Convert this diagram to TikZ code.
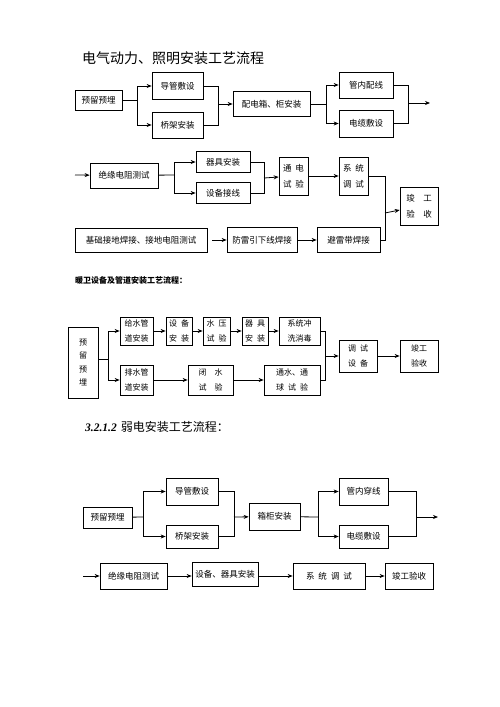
\documentclass[tikz,border=0pt]{standalone}
\usepackage{fontspec}
\setmainfont{Noto Sans CJK SC}
\newfontfamily\numfont{Liberation Serif}
\usetikzlibrary{arrows.meta,positioning}
\newcommand{\cgap}{\hspace{4pt}}

\begin{document}
\begin{tikzpicture}[
    x=1pt, y=-1pt,
    box/.style={draw, line width=0.7pt, inner sep=0pt, align=center, font=\fontsize{8.5}{16}\selectfont},
    tallbox/.style={box, font=\fontsize{8}{15}\selectfont},
    title/.style={anchor=west, inner sep=0pt},
    arrow/.style={-{Stealth[length=5pt,width=4pt]}, line width=0.8pt},
    line/.style={line width=0.8pt},
]
\useasboundingbox (0,0) rectangle (500,707);

% Electrical flow
\node[title, font=\fontsize{14}{16}\selectfont] (title1) at (82,58) {电气动力、照明安装工艺流程};

\node[box, minimum width=47, minimum height=20] (yl1) at (98.5,100) {预留预埋};
\node[box, minimum width=51, minimum height=27] (dg1) at (177.5,86) {导管敷设};
\node[box, minimum width=51, minimum height=26] (qj1) at (177.5,125) {桥架安装};
\node[box, minimum width=77, minimum height=25] (pd1) at (271.5,104) {配电箱、柜安装};
\node[box, minimum width=54, minimum height=26] (gn1) at (366,85) {管内配线};
\node[box, minimum width=54, minimum height=27] (dl1) at (366,123.5) {电缆敷设};

\coordinate (b1) at (137,100);
\coordinate (m1) at (218,104);
\coordinate (b2) at (326,104);
\coordinate (m2) at (408,103);
\coordinate (out1) at (430,103);

\draw[line] (yl1) -- (b1);
\draw[arrow] (b1) |- (dg1);
\draw[arrow] (b1) |- (qj1);
\draw[line] (dg1) -| (m1);
\draw[line] (qj1) -| (m1);
\draw[arrow] (m1) -- (pd1);
\draw[line] (pd1) -- (b2);
\draw[arrow] (b2) |- (gn1);
\draw[arrow] (b2) |- (dl1);
\draw[line] (gn1) -| (m2);
\draw[line] (dl1) -| (m2);
\draw[arrow] (m2) -- (out1);

% Testing row
\coordinate (in2) at (75,175);
\node[box, minimum width=68, minimum height=25] (jy1) at (124,175.5) {绝缘电阻测试};
\node[box, minimum width=54, minimum height=21] (qa1) at (223,162) {器具安装};
\node[box, minimum width=54, minimum height=21] (sb1) at (223,193) {设备接线};
\node[box, minimum width=29, minimum height=38] (td1) at (293.5,176) {通\cgap 电\\试\cgap 验};
\node[box, minimum width=29, minimum height=38] (xt1) at (353.5,176) {系\cgap 统\\调\cgap 试};
\node[box, minimum width=38, minimum height=38] (jg1) at (419,206) {竣　工\\验　收};

\coordinate (b3) at (174,175);
\coordinate (m3) at (264,178);
\coordinate (m4) at (385,213);

\draw[arrow] (in2) -- (jy1);
\draw[line] (jy1) -- (b3);
\draw[arrow] (b3) |- (qa1);
\draw[arrow] (b3) |- (sb1);
\draw[line] (qa1) -| (m3);
\draw[line] (sb1) -| (m3);
\draw[arrow] (m3) -- (td1);
\draw[arrow] (td1) -- (xt1);

% Grounding row
\node[box, minimum width=132, minimum height=24] (jd1) at (141,240) {基础接地焊接、接地电阻测试};
\node[box, minimum width=70, minimum height=25] (fl1) at (262,240) {防雷引下线焊接};
\node[box, minimum width=63, minimum height=25] (bl1) at (348.5,240) {避雷带焊接};
\coordinate (in3) at (212,240);

\draw[arrow] (in3) -- (fl1);
\draw[arrow] (fl1) -- (bl1);
\draw[line] (xt1) -| (m4);
\draw[line] (bl1) -| (m4);
\draw[arrow] (m4) -- (jg1);

% Plumbing flow
\node[title, font=\bfseries\fontsize{8}{10}\selectfont] (title2) at (75,280) {暖卫设备及管道安装工艺流程：};

\node[tallbox, minimum width=30, minimum height=71, font=\fontsize{8}{13.5}\selectfont] (yl2) at (83,362.5) {预\\留\\预\\埋};
\node[tallbox, minimum width=33, minimum height=28] (gs2) at (136.5,331) {给水管\\道安装};
\node[tallbox, minimum width=26, minimum height=28] (sb2) at (179,331) {设\cgap 备\\安\cgap 装};
\node[tallbox, minimum width=27, minimum height=28] (sy2) at (216.5,331) {水\cgap 压\\试\cgap 验};
\node[tallbox, minimum width=26, minimum height=28] (qj2) at (255,331) {器\cgap 具\\安\cgap 装};
\node[tallbox, minimum width=41, minimum height=28] (xt2) at (299.5,331) {系统冲\\洗消毒};
\node[tallbox, minimum width=33, minimum height=30] (ps2) at (136.5,380) {排水管\\道安装};
\node[tallbox, minimum width=45, minimum height=30] (bs2) at (210.5,380) {闭　水\\试　验};
\node[tallbox, minimum width=56, minimum height=30] (ts2) at (292,380) {通水、通\\球\cgap 试\cgap 验};
\node[tallbox, minimum width=38, minimum height=32] (ds2) at (358,356) {调\cgap 试\\设\cgap 备};
\node[tallbox, minimum width=38, minimum height=32] (jg2) at (419,356) {竣工\\验收};

\coordinate (b5) at (108,359);
\coordinate (m5) at (325,356);

\draw[line] (yl2.east |- b5) -- (b5);
\draw[arrow] (b5) |- (gs2);
\draw[arrow] (b5) |- (ps2);
\draw[arrow] (gs2) -- (sb2);
\draw[arrow] (sb2) -- (sy2);
\draw[arrow] (sy2) -- (qj2);
\draw[arrow] (qj2) -- (xt2);
\draw[arrow] (ps2) -- (bs2);
\draw[arrow] (bs2) -- (ts2);
\draw[line] (xt2) -| (m5);
\draw[line] (ts2) -| (m5);
\draw[arrow] (m5) -- (ds2);
\draw[arrow] (ds2) -- (jg2);

% Weak current flow
\node[title] (title3) at (85,427) {{\numfont\bfseries\itshape\fontsize{11.5}{14}\selectfont 3.2.1.2}\hspace{4pt}{\fontsize{12}{14}\selectfont 弱电安装工艺流程：}};

\node[box, minimum width=49, minimum height=21] (yl3) at (107.5,517.5) {预留预埋};
\node[box, minimum width=52, minimum height=27] (dg3) at (192,491.5) {导管敷设};
\node[box, minimum width=52, minimum height=23] (qj3) at (192,536.5) {桥架安装};
\node[box, minimum width=51, minimum height=27] (xg3) at (274.5,516.5) {箱柜安装};
\node[box, minimum width=49, minimum height=27] (gn3) at (363.5,491.5) {管内穿线};
\node[box, minimum width=49, minimum height=23] (dl3) at (363.5,536.5) {电缆敷设};

\coordinate (b6) at (143,517);
\coordinate (m6) at (234,517);
\coordinate (b7) at (318,517);
\coordinate (m7) at (416,517);
\coordinate (out3) at (438,517);

\draw[line] (yl3) -- (b6);
\draw[arrow] (b6) |- (dg3);
\draw[arrow] (b6) |- (qj3);
\draw[line] (dg3) -| (m6);
\draw[line] (qj3) -| (m6);
\draw[arrow] (m6) -- (xg3);
\draw[line] (xg3) -- (b7);
\draw[arrow] (b7) |- (gn3);
\draw[arrow] (b7) |- (dl3);
\draw[line] (gn3) -| (m7);
\draw[line] (dl3) -| (m7);
\draw[arrow] (m7) -- (out3);

% Final row
\coordinate (in4) at (83,576);
\node[box, minimum width=67, minimum height=26] (jy3) at (133.5,576) {绝缘电阻测试};
\node[box, minimum width=66, minimum height=24] (sb3) at (225,574) {设备、器具安装};
\node[box, minimum width=72, minimum height=26] (xt3) at (329,576) {系\cgap 统\cgap 调\cgap 试};
\node[box, minimum width=48, minimum height=26] (jg3) at (409,576) {竣工验收};

\draw[arrow] (in4) -- (jy3);
\draw[arrow] (jy3.east) -- (jy3.east -| sb3.west);
\draw[arrow] (sb3.east |- xt3) -- (xt3);
\draw[arrow] (xt3) -- (jg3);

\end{tikzpicture}
\end{document}
